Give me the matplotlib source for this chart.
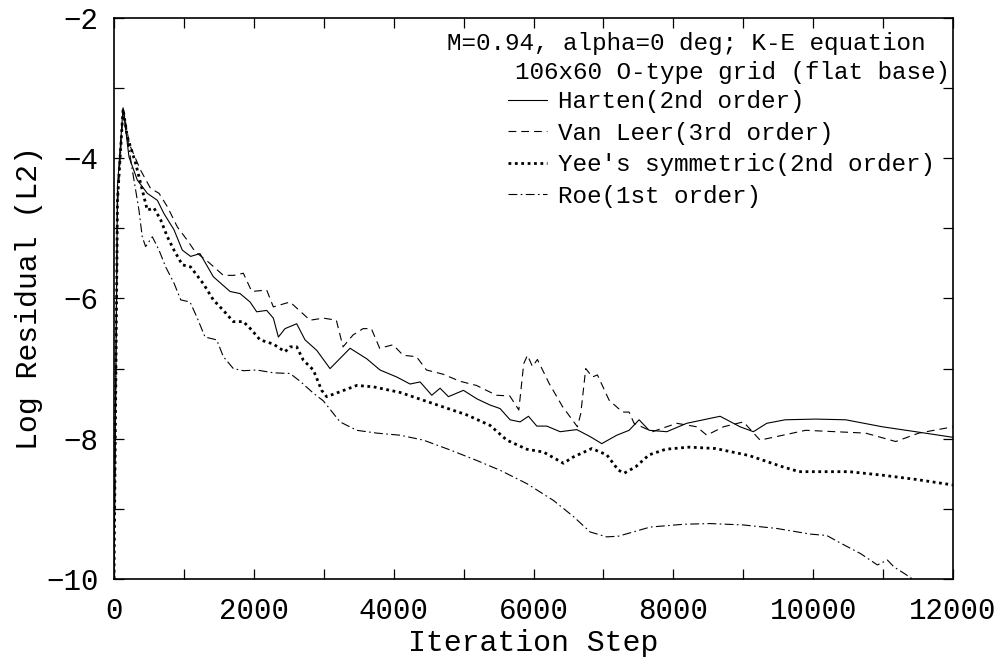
import matplotlib
matplotlib.use("Agg")
import matplotlib.pyplot as plt
from matplotlib.ticker import MultipleLocator

plt.rcParams['font.family'] = ['Liberation Mono', 'DejaVu Sans Mono']

# Data
harten_x = [0, 50, 130, 214, 333, 476, 620, 715, 858, 977, 1096, 1230, 1421, 1660, 1803,
            1946, 2041, 2184, 2279, 2351, 2446, 2613, 2732, 2900, 3090, 3376, 3615, 3805,
            4044, 4235, 4378, 4545, 4664, 4783, 4998, 5188, 5379, 5522, 5665, 5808, 5928,
            6047, 6190, 6381, 6619, 6810, 6976, 7191, 7367, 7510, 7653, 7906, 8192, 8430,
            8669, 8955, 9145, 9336, 9600, 10036, 10465, 10990, 11466, 12000]
harten_y = [-10, -4.4, -3.28, -3.98, -4.31, -4.50, -4.60, -4.79, -5.02, -5.31, -5.40, -5.36,
            -5.69, -5.90, -5.93, -6.05, -6.19, -6.17, -6.28, -6.55, -6.43, -6.36, -6.59,
            -6.74, -7.00, -6.71, -6.86, -7.02, -7.12, -7.22, -7.19, -7.38, -7.28, -7.40,
            -7.31, -7.43, -7.52, -7.57, -7.73, -7.76, -7.68, -7.82, -7.82, -7.90, -7.87,
            -7.97, -8.07, -7.95, -7.88, -7.73, -7.88, -7.90, -7.78, -7.73, -7.68, -7.83,
            -7.90, -7.78, -7.73, -7.72, -7.73, -7.83, -7.90, -7.98]

vanleer_x = [0, 50, 130, 220, 380, 523, 644, 763, 906, 1049, 1159, 1349, 1564, 1717, 1850,
             1970, 2184, 2279, 2518, 2804, 2994, 3180, 3276, 3419, 3562, 3681, 3800, 3991,
             4135, 4326, 4469, 4707, 4946, 5184, 5470, 5661, 5790, 5860, 5913, 5985, 6056,
             6223, 6414, 6628, 6676, 6747, 6843, 6914, 7081, 7272, 7367, 7438, 7700, 8049,
             8335, 8478, 8716, 9002, 9240, 9893, 10750, 11180, 11510, 12000]
vanleer_y = [-10, -4.5, -3.28, -3.8, -4.17, -4.43, -4.50, -4.69, -4.98, -5.17, -5.33, -5.48,
             -5.67, -5.67, -5.64, -5.90, -5.88, -6.12, -6.05, -6.31, -6.28, -6.31, -6.69,
             -6.52, -6.43, -6.43, -6.71, -6.66, -6.81, -6.83, -7.02, -7.08, -7.18, -7.24,
             -7.38, -7.39, -7.59, -6.93, -6.81, -6.97, -6.87, -7.21, -7.54, -7.83, -7.64,
             -7.00, -7.12, -7.09, -7.45, -7.62, -7.62, -7.78, -7.90, -7.78, -7.83, -7.95,
             -7.83, -7.76, -8.02, -7.88, -7.92, -8.04, -7.92, -7.83]

yee_x = [0, 50, 130, 190, 309, 404, 476, 572, 668, 763, 858, 977, 1096, 1278, 1421, 1564,
         1707, 1850, 1970, 2089, 2279, 2446, 2518, 2613, 2708, 2851, 2970, 3042, 3233, 3472,
         3710, 4092, 4568, 5045, 5379, 5618, 5904, 6142, 6428, 6570, 6834, 7048, 7215, 7300,
         7462, 7653, 7891, 8225, 8606, 9083, 9560, 9798, 10513, 10990, 11466, 12000]
yee_y = [-10, -4.6, -3.3, -3.69, -4.07, -4.45, -4.74, -4.71, -4.88, -5.12, -5.31, -5.52,
         -5.55, -5.79, -6.02, -6.17, -6.33, -6.33, -6.45, -6.59, -6.65, -6.76, -6.69, -6.69,
         -6.88, -7.02, -7.31, -7.40, -7.33, -7.24, -7.26, -7.34, -7.50, -7.66, -7.81, -8.02,
         -8.15, -8.19, -8.35, -8.26, -8.14, -8.23, -8.45, -8.49, -8.40, -8.23, -8.15, -8.12,
         -8.14, -8.24, -8.40, -8.47, -8.47, -8.52, -8.58, -8.66]

roe_x = [0, 50, 130, 262, 309, 357, 404, 452, 548, 644, 739, 858, 954, 1087, 1183, 1302,
         1469, 1564, 1707, 1850, 2041, 2279, 2518, 2661, 2851, 2994, 3233, 3472, 3758, 4092,
         4425, 4807, 5188, 5522, 5904, 6285, 6571, 6810, 7048, 7215, 7668, 8145, 8526, 9002,
         9479, 9956, 10194, 10394, 10680, 10918, 11061, 11157, 11300, 11420]
roe_y = [-10, -4.7, -3.3, -4.17, -4.45, -4.74, -5.12, -5.26, -5.12, -5.31, -5.55, -5.78,
         -6.02, -6.05, -6.26, -6.55, -6.59, -6.83, -7.00, -7.03, -7.02, -7.06, -7.07, -7.18,
         -7.35, -7.46, -7.76, -7.88, -7.92, -7.95, -8.02, -8.16, -8.31, -8.45, -8.64, -8.88,
         -9.11, -9.33, -9.40, -9.39, -9.26, -9.22, -9.21, -9.23, -9.28, -9.36, -9.38, -9.49,
         -9.64, -9.80, -9.73, -9.83, -9.92, -10.0]

labels = ["Harten(2nd order)", "Van Leer(3rd order)",
          "Yee's symmetric(2nd order)", "Roe(1st order)"]
header = ["M=0.94, alpha=0 deg; K-E equation", "106x60 O-type grid (flat base)"]

fig = plt.figure(figsize=(10.07, 6.67), dpi=100)
ax = fig.add_axes([0.1132, 0.132, 0.8332, 0.841])

ax.plot(harten_x, harten_y, color='black', lw=0.8, ls='-', label=labels[0])
ax.plot(vanleer_x, vanleer_y, color='black', lw=0.8, ls=(0, (7, 4.5)), label=labels[1])
ax.plot(yee_x, yee_y, color='black', lw=2.0, ls=(0, (1, 1.3)), label=labels[2])
ax.plot(roe_x, roe_y, color='black', lw=0.8, ls=(0, (8, 3, 1.5, 3)), label=labels[3])

ax.set_xlim(0, 12000)
ax.set_ylim(-10, -2)
ax.xaxis.set_major_locator(MultipleLocator(2000))
ax.xaxis.set_minor_locator(MultipleLocator(1000))
ax.yaxis.set_major_locator(MultipleLocator(2))
ax.yaxis.set_minor_locator(MultipleLocator(1))
ax.tick_params(which='both', direction='in', top=True, right=True, length=7, width=0.9)
ax.tick_params(axis='x', which='major', labelsize=21, pad=13)
ax.tick_params(axis='y', which='major', labelsize=21, pad=11)
for s in ax.spines.values():
    s.set_linewidth(1.2)

ax.set_xlabel("Iteration Step", fontsize=21.5, labelpad=3)
ax.set_ylabel("Log Residual (L2)", fontsize=21.5, labelpad=2)

ax.text(0.397, 0.955, header[0], transform=ax.transAxes, fontsize=17.5, va='center')
ax.text(0.478, 0.902, header[1], transform=ax.transAxes, fontsize=17.5, va='center')
ax.legend(loc='upper left', bbox_to_anchor=(0.4696, 0.871), frameon=False, fontsize=17.5,
          handlelength=1.6, handletextpad=0.45, labelspacing=0.35, borderpad=0,
          borderaxespad=0)

fig.savefig("out.png", dpi=100)
